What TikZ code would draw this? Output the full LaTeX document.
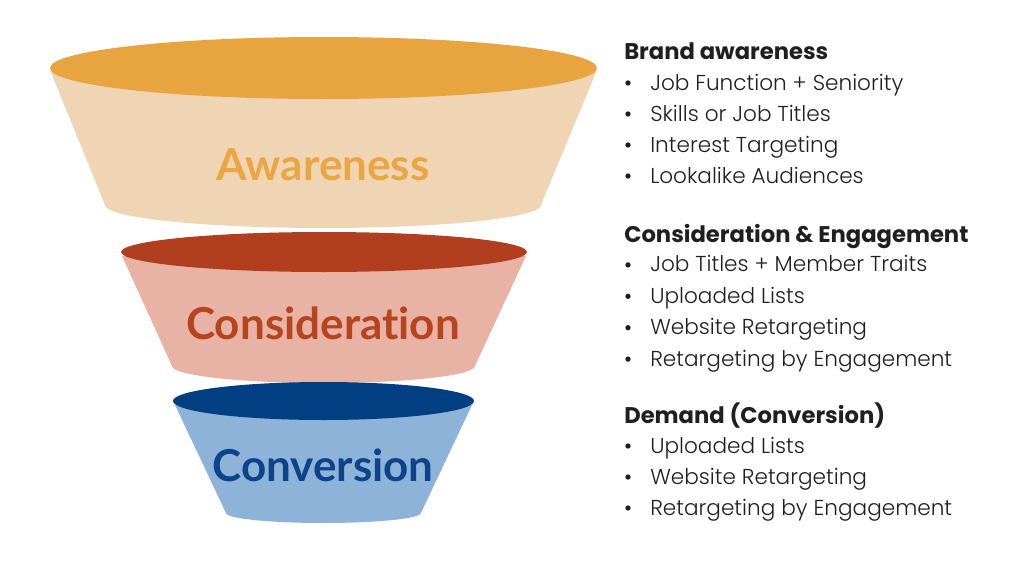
\documentclass[tikz,border=0pt]{standalone}
\usepackage{fontspec}
\setmainfont{Poppins}
\newfontfamily\itemfont{Poppins}[UprightFont=* Light]
\newfontfamily\funnelfont{Lato}[Ligatures=NoCommon]
\usetikzlibrary{positioning}

\definecolor{awaretop}{HTML}{E8A43E}
\definecolor{awarebody}{HTML}{F0D5B5}
\definecolor{awaretext}{HTML}{EAA642}
\definecolor{constop}{HTML}{B03E1F}
\definecolor{consbody}{HTML}{E8B2A5}
\definecolor{constext}{HTML}{B5441F}
\definecolor{convtop}{HTML}{013F82}
\definecolor{convbody}{HTML}{8DB3D9}
\definecolor{convtext}{HTML}{0B4489}
\definecolor{ink}{HTML}{1F1F1F}

\begin{document}
\begin{tikzpicture}[
	x=0.75pt, y=-0.75pt,
	stage/.style={font=\funnelfont\bfseries\fontsize{33}{35}\selectfont, inner sep=0pt},
	head/.style={font=\bfseries\fontsize{17}{19}\selectfont, anchor=base west, inner sep=0pt, text=ink},
	item/.style={font=\itemfont\fontsize{16.2}{18}\selectfont, anchor=base west, inner sep=0pt, text=ink},
	dot/.style={circle, fill=ink, inner sep=0pt, minimum size=4pt},
	]
	\useasboundingbox (0,0) rectangle (1018,578);
	
	% funnel
	\fill[awarebody] (50,70) -- (105,205) arc[start angle=180, end angle=360, x radius=163.5pt, y radius=17.25pt] -- (597,70) -- cycle;
	\fill[awaretop] (323.5,68) ellipse [x radius=205.1pt, y radius=23.25pt];
	\fill[consbody] (122,256) -- (172,366) arc[start angle=180, end angle=360, x radius=113.6pt, y radius=12.75pt] -- (526,256) -- cycle;
	\fill[constop] (324,252) ellipse [x radius=152.25pt, y radius=15pt];
	\fill[convbody] (175,405) -- (226,513) arc[start angle=180, end angle=360, x radius=73.1pt, y radius=7.5pt] -- (472,405) -- cycle;
	\fill[convtop] (323.5,401) ellipse [x radius=112.9pt, y radius=14.25pt];
	
	\node[stage, text=awaretext] (aware) at (323,165) {Awareness};
	\node[stage, text=constext] (cons) at (323,323) {Consideration};
	\node[stage, text=convtext] (conv) at (323,465) {Conversion};
	
	% targeting lists
	\node[head] (h1) at (624,59) {Brand awareness};
	\foreach \t [count=\i, evaluate=\i as \yy using 59+31*\i] in {Job Function + Seniority, Skills or Job Titles, Interest Targeting, Lookalike Audiences}{
		\node[dot] (d1\i) at (628,\yy-7) {};
		\node[item] (a\i) at (650,\yy) {\t};
	}
	
	\node[head] (h2) at (624,242) {Consideration \& Engagement};
	\foreach \t [count=\i, evaluate=\i as \yy using 240.5+31.4*\i] in {Job Titles + Member Traits, Uploaded Lists, Website Retargeting, Retargeting by Engagement}{
		\node[dot] (d2\i) at (628,\yy-7) {};
		\node[item] (b\i) at (650,\yy) {\t};
	}
	
	\node[head] (h3) at (624,423) {Demand (Conversion)};
	\foreach \t [count=\i, evaluate=\i as \yy using 422+31*\i] in {Uploaded Lists, Website Retargeting, Retargeting by Engagement}{
		\node[dot] (d3\i) at (628,\yy-7) {};
		\node[item] (c\i) at (650,\yy) {\t};
	}
	
\end{tikzpicture}
\end{document}
